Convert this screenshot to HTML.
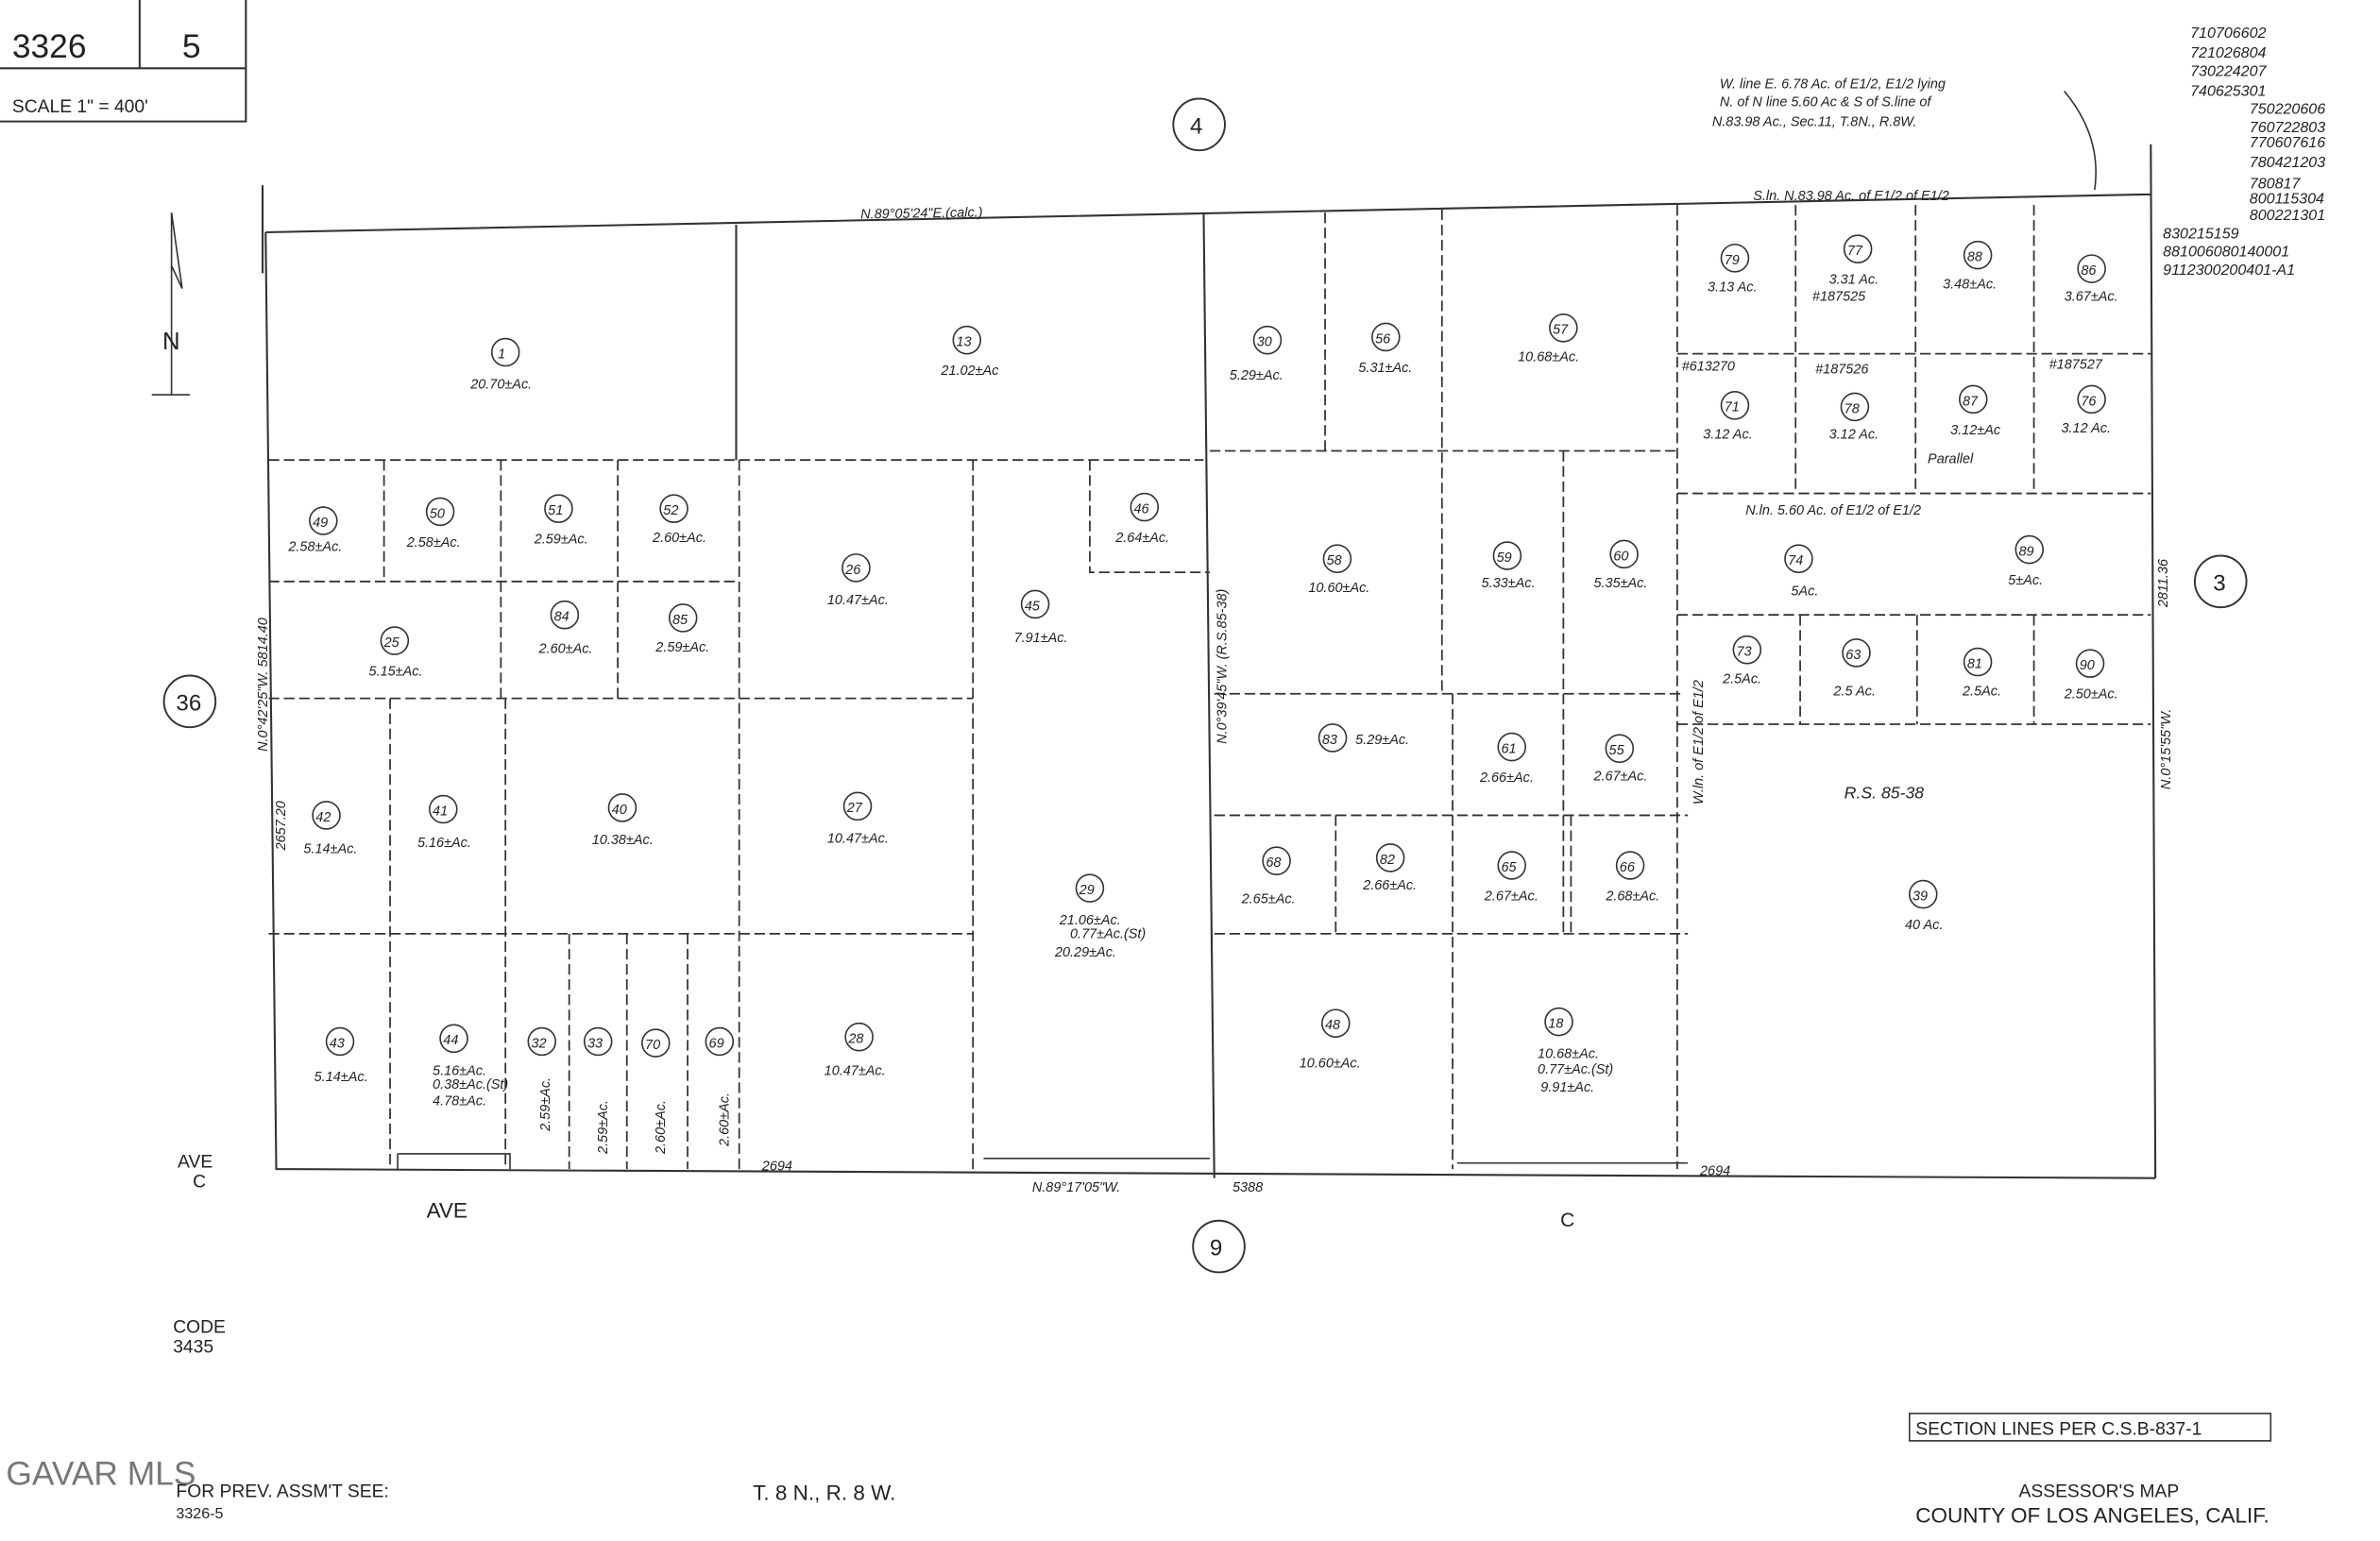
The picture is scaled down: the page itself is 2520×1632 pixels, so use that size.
<!DOCTYPE html>
<html><head><meta charset="utf-8"><style>
html,body{margin:0;padding:0;background:#fff;}
svg{display:block}
text{font-family:"Liberation Sans",sans-serif;fill:#222}
.s{font-size:9px;font-style:italic}
.n{font-size:11px;font-style:italic}
.b{font-size:15px}
</style></head><body>
<svg width="2520" height="1632" viewBox="0 0 1568 1015" preserveAspectRatio="none" xmlns="http://www.w3.org/2000/svg">
<rect width="1568" height="1015" fill="#fff"/>
<g stroke="#333" fill="none" stroke-width="1.3">
<!-- header box -->
<path d="M0 45 H162 V0 M92 0 V45 M0 80 H162 V45"/>
<!-- outline -->
<path d="M175 153 L1417 128 M175 153 L182 770 L1420 776 M1417 95 L1420 776 M173 122 V180"/>
<path d="M793 140 L800 776"/>
<path d="M485 148 V303"/>
</g>
<g stroke="#333" fill="none" stroke-width="1.1" stroke-dasharray="7,3">
<path d="M177 303 H793 M253 303 V383 M330 303 V460 M407 303 V460 M487 303 V770 M177 383 H487 M641 303 V770 M177 460 H641 M257 460 V770 M333 460 V770 M177 615 H641 M375 615 V770 M413 615 V770 M453 615 V770 M718 303 V377 H797"/>
<path d="M873 140 V300 M950 138 V457 M797 297 H1105 M1105 135 V770 M1030 297 V615 M800 457 H1110 M800 537 H1112 M800 615 H1112 M880 537 V615 M957 457 V770 M1035 537 V615"/>
<path d="M1105 233 H1417 M1183 135 V325 M1262 135 V325 M1340 135 V325 M1105 325 H1417 M1105 405 H1417 M1186 405 V477 M1263 405 V477 M1340 405 V477 M1105 477 H1417"/>
</g>
<g stroke="#333" fill="none" stroke-width="1">
<path d="M262 760 H336 V770 M262 760 V770 M648 763 H797 M960 766 H1112"/>
<path d="M113 140 L120 190 L113 175 M113 140 V260 M100 260 H125"/>
<path d="M1360 60 Q1385 90 1380 125"/>
</g>
<g fill="none" stroke="#333" stroke-width="1.2">
<circle cx="790" cy="82" r="17"/><circle cx="125" cy="462" r="17"/><circle cx="1463" cy="383" r="17"/><circle cx="803" cy="821" r="17"/>
</g>
<text class="b" x="784" y="88">4</text><text class="b" x="116" y="468">36</text><text class="b" x="1458" y="389">3</text><text class="b" x="797" y="827">9</text>
<text x="8" y="38" style="font-size:22px">3326</text><text x="120" y="38" style="font-size:22px">5</text>
<text x="8" y="74" style="font-size:12px">SCALE 1" = 400'</text>
<text x="107" y="230" style="font-size:16px">N</text>
<g id="lots" font-size="10">
<circle cx="333" cy="232" r="9" fill="none" stroke="#333"/><text class="s" x="328" y="236">1</text><text class="s" x="310" y="256">20.70±Ac.</text>
<circle cx="637" cy="224" r="9" fill="none" stroke="#333"/><text class="s" x="630" y="228">13</text><text class="s" x="620" y="247">21.02±Ac</text>
<circle cx="835" cy="224" r="9" fill="none" stroke="#333"/><text class="s" x="828" y="228">30</text><text class="s" x="810" y="250">5.29±Ac.</text>
<circle cx="913" cy="222" r="9" fill="none" stroke="#333"/><text class="s" x="906" y="226">56</text><text class="s" x="895" y="245">5.31±Ac.</text>
<circle cx="1030" cy="216" r="9" fill="none" stroke="#333"/><text class="s" x="1023" y="220">57</text><text class="s" x="1000" y="238">10.68±Ac.</text>
<circle cx="1143" cy="170" r="9" fill="none" stroke="#333"/><text class="s" x="1136" y="174">79</text><text class="s" x="1125" y="192">3.13 Ac.</text>
<circle cx="1224" cy="164" r="9" fill="none" stroke="#333"/><text class="s" x="1217" y="168">77</text><text class="s" x="1205" y="187">3.31 Ac.</text>
<circle cx="1303" cy="168" r="9" fill="none" stroke="#333"/><text class="s" x="1296" y="172">88</text><text class="s" x="1280" y="190">3.48±Ac.</text>
<circle cx="1378" cy="177" r="9" fill="none" stroke="#333"/><text class="s" x="1371" y="181">86</text><text class="s" x="1360" y="198">3.67±Ac.</text>
<circle cx="1143" cy="267" r="9" fill="none" stroke="#333"/><text class="s" x="1136" y="271">71</text><text class="s" x="1122" y="289">3.12 Ac.</text>
<circle cx="1222" cy="268" r="9" fill="none" stroke="#333"/><text class="s" x="1215" y="272">78</text><text class="s" x="1205" y="289">3.12 Ac.</text>
<circle cx="1300" cy="263" r="9" fill="none" stroke="#333"/><text class="s" x="1293" y="267">87</text><text class="s" x="1285" y="286">3.12±Ac</text>
<circle cx="1378" cy="263" r="9" fill="none" stroke="#333"/><text class="s" x="1371" y="267">76</text><text class="s" x="1358" y="285">3.12 Ac.</text>
<circle cx="213" cy="343" r="9" fill="none" stroke="#333"/><text class="s" x="206" y="347">49</text><text class="s" x="190" y="363">2.58±Ac.</text>
<circle cx="290" cy="337" r="9" fill="none" stroke="#333"/><text class="s" x="283" y="341">50</text><text class="s" x="268" y="360">2.58±Ac.</text>
<circle cx="368" cy="335" r="9" fill="none" stroke="#333"/><text class="s" x="361" y="339">51</text><text class="s" x="352" y="358">2.59±Ac.</text>
<circle cx="444" cy="335" r="9" fill="none" stroke="#333"/><text class="s" x="437" y="339">52</text><text class="s" x="430" y="357">2.60±Ac.</text>
<circle cx="754" cy="334" r="9" fill="none" stroke="#333"/><text class="s" x="747" y="338">46</text><text class="s" x="735" y="357">2.64±Ac.</text>
<circle cx="564" cy="374" r="9" fill="none" stroke="#333"/><text class="s" x="557" y="378">26</text><text class="s" x="545" y="398">10.47±Ac.</text>
<circle cx="682" cy="398" r="9" fill="none" stroke="#333"/><text class="s" x="675" y="402">45</text><text class="s" x="668" y="423">7.91±Ac.</text>
<circle cx="260" cy="422" r="9" fill="none" stroke="#333"/><text class="s" x="253" y="426">25</text><text class="s" x="243" y="445">5.15±Ac.</text>
<circle cx="372" cy="405" r="9" fill="none" stroke="#333"/><text class="s" x="365" y="409">84</text><text class="s" x="355" y="430">2.60±Ac.</text>
<circle cx="450" cy="407" r="9" fill="none" stroke="#333"/><text class="s" x="443" y="411">85</text><text class="s" x="432" y="429">2.59±Ac.</text>
<circle cx="881" cy="368" r="9" fill="none" stroke="#333"/><text class="s" x="874" y="372">58</text><text class="s" x="862" y="390">10.60±Ac.</text>
<circle cx="993" cy="366" r="9" fill="none" stroke="#333"/><text class="s" x="986" y="370">59</text><text class="s" x="976" y="387">5.33±Ac.</text>
<circle cx="1070" cy="365" r="9" fill="none" stroke="#333"/><text class="s" x="1063" y="369">60</text><text class="s" x="1050" y="387">5.35±Ac.</text>
<circle cx="1185" cy="368" r="9" fill="none" stroke="#333"/><text class="s" x="1178" y="372">74</text><text class="s" x="1180" y="392">5Ac.</text>
<circle cx="1337" cy="362" r="9" fill="none" stroke="#333"/><text class="s" x="1330" y="366">89</text><text class="s" x="1323" y="385">5±Ac.</text>
<circle cx="1151" cy="428" r="9" fill="none" stroke="#333"/><text class="s" x="1144" y="432">73</text><text class="s" x="1135" y="450">2.5Ac.</text>
<circle cx="1223" cy="430" r="9" fill="none" stroke="#333"/><text class="s" x="1216" y="434">63</text><text class="s" x="1208" y="458">2.5 Ac.</text>
<circle cx="1303" cy="436" r="9" fill="none" stroke="#333"/><text class="s" x="1296" y="440">81</text><text class="s" x="1293" y="458">2.5Ac.</text>
<circle cx="1377" cy="437" r="9" fill="none" stroke="#333"/><text class="s" x="1370" y="441">90</text><text class="s" x="1360" y="460">2.50±Ac.</text>
<circle cx="878" cy="486" r="9" fill="none" stroke="#333"/><text class="s" x="871" y="490">83</text><text class="s" x="893" y="490">5.29±Ac.</text>
<circle cx="996" cy="492" r="9" fill="none" stroke="#333"/><text class="s" x="989" y="496">61</text><text class="s" x="975" y="515">2.66±Ac.</text>
<circle cx="1067" cy="493" r="9" fill="none" stroke="#333"/><text class="s" x="1060" y="497">55</text><text class="s" x="1050" y="514">2.67±Ac.</text>
<circle cx="215" cy="537" r="9" fill="none" stroke="#333"/><text class="s" x="208" y="541">42</text><text class="s" x="200" y="562">5.14±Ac.</text>
<circle cx="292" cy="533" r="9" fill="none" stroke="#333"/><text class="s" x="285" y="537">41</text><text class="s" x="275" y="558">5.16±Ac.</text>
<circle cx="410" cy="532" r="9" fill="none" stroke="#333"/><text class="s" x="403" y="536">40</text><text class="s" x="390" y="556">10.38±Ac.</text>
<circle cx="565" cy="531" r="9" fill="none" stroke="#333"/><text class="s" x="558" y="535">27</text><text class="s" x="545" y="555">10.47±Ac.</text>
<circle cx="718" cy="585" r="9" fill="none" stroke="#333"/><text class="s" x="711" y="589">29</text><text class="s" x="698" y="609">21.06±Ac.</text><text class="s" x="705" y="618">0.77±Ac.(St)</text><text class="s" x="695" y="630">20.29±Ac.</text>
<circle cx="841" cy="567" r="9" fill="none" stroke="#333"/><text class="s" x="834" y="571">68</text><text class="s" x="818" y="595">2.65±Ac.</text>
<circle cx="916" cy="565" r="9" fill="none" stroke="#333"/><text class="s" x="909" y="569">82</text><text class="s" x="898" y="586">2.66±Ac.</text>
<circle cx="996" cy="570" r="9" fill="none" stroke="#333"/><text class="s" x="989" y="574">65</text><text class="s" x="978" y="593">2.67±Ac.</text>
<circle cx="1074" cy="570" r="9" fill="none" stroke="#333"/><text class="s" x="1067" y="574">66</text><text class="s" x="1058" y="593">2.68±Ac.</text>
<text class="n" x="1215" y="526">R.S. 85-38</text>
<circle cx="1267" cy="589" r="9" fill="none" stroke="#333"/><text class="s" x="1260" y="593">39</text><text class="s" x="1255" y="612">40 Ac.</text>
<circle cx="224" cy="686" r="9" fill="none" stroke="#333"/><text class="s" x="217" y="690">43</text><text class="s" x="207" y="712">5.14±Ac.</text>
<circle cx="299" cy="684" r="9" fill="none" stroke="#333"/><text class="s" x="292" y="688">44</text><text class="s" x="285" y="708">5.16±Ac.</text><text class="s" x="285" y="717">0.38±Ac.(St)</text><text class="s" x="285" y="728">4.78±Ac.</text>
<circle cx="357" cy="686" r="9" fill="none" stroke="#333"/><text class="s" x="350" y="690">32</text>
<circle cx="394" cy="686" r="9" fill="none" stroke="#333"/><text class="s" x="387" y="690">33</text>
<circle cx="432" cy="687" r="9" fill="none" stroke="#333"/><text class="s" x="425" y="691">70</text>
<circle cx="474" cy="686" r="9" fill="none" stroke="#333"/><text class="s" x="467" y="690">69</text>
<circle cx="566" cy="683" r="9" fill="none" stroke="#333"/><text class="s" x="559" y="687">28</text><text class="s" x="543" y="708">10.47±Ac.</text>
<circle cx="880" cy="674" r="9" fill="none" stroke="#333"/><text class="s" x="873" y="678">48</text><text class="s" x="856" y="703">10.60±Ac.</text>
<circle cx="1027" cy="673" r="9" fill="none" stroke="#333"/><text class="s" x="1020" y="677">18</text><text class="s" x="1013" y="697">10.68±Ac.</text><text class="s" x="1013" y="707">0.77±Ac.(St)</text><text class="s" x="1015" y="719">9.91±Ac.</text>
</g>
<g class="s">
<text x="362" y="745" transform="rotate(-90 362 745)">2.59±Ac.</text>
<text x="400" y="760" transform="rotate(-90 400 760)">2.59±Ac.</text>
<text x="438" y="760" transform="rotate(-90 438 760)">2.60±Ac.</text>
<text x="480" y="755" transform="rotate(-90 480 755)">2.60±Ac.</text>
<text x="176" y="495" transform="rotate(-90 176 495)">N.0°42'25"W. 5814.40</text>
<text x="188" y="560" transform="rotate(-90 188 560)">2657.20</text>
<text x="808" y="490" transform="rotate(-90 808 490)">N.0°39'45"W. (R.S.85-38)</text>
<text x="1122" y="530" transform="rotate(-90 1122 530)">W.ln. of E1/2 of E1/2</text>
<text x="1430" y="520" transform="rotate(-90 1430 520)">N.0°15'55"W.</text>
<text x="1428" y="400" transform="rotate(-90 1428 400)">2811.36</text>
<text x="567" y="144" transform="rotate(-1 567 144)">N.89°05'24"E.(calc.)</text>
<text x="1155" y="132">S.ln. N.83.98 Ac. of E1/2 of E1/2</text>
<text x="1150" y="339">N.ln. 5.60 Ac. of E1/2 of E1/2</text>
<text x="1133" y="58">W. line E. 6.78 Ac. of E1/2, E1/2 lying</text>
<text x="1133" y="70">N. of N line 5.60 Ac &amp; S of S.line of</text>
<text x="1128" y="83">N.83.98 Ac., Sec.11, T.8N., R.8W.</text>
<text x="1270" y="305">Parallel</text>
<text x="680" y="785">N.89°17'05"W.</text><text x="812" y="785">5388</text>
<text x="502" y="771">2694</text><text x="1120" y="774">2694</text>
<text x="1108" y="244">#613270</text><text x="1196" y="246">#187526</text><text x="1350" y="243">#187527</text>
<text x="1194" y="198">#187525</text>
</g>
<g font-size="10" style="font-style:italic">
<text x="1443" y="25">710706602</text><text x="1443" y="38">721026804</text><text x="1443" y="50">730224207</text><text x="1443" y="63">740625301</text>
<text x="1482" y="75">750220606</text><text x="1482" y="87">760722803</text><text x="1482" y="97">770607616</text><text x="1482" y="110">780421203</text>
<text x="1482" y="124">780817</text><text x="1482" y="134">800115304</text><text x="1482" y="145">800221301</text>
<text x="1425" y="157">830215159</text><text x="1425" y="169">881006080140001</text><text x="1425" y="181">9112300200401-A1</text>
</g>
<text x="117" y="769" font-size="12">AVE</text><text x="127" y="782" font-size="12">C</text>
<text x="281" y="802" font-size="14">AVE</text><text x="1028" y="808" font-size="13">C</text>
<text x="114" y="878" font-size="12">CODE</text><text x="114" y="891" font-size="12">3435</text>
<rect x="1258" y="931" width="238" height="18" fill="none" stroke="#333"/>
<text x="1262" y="945" font-size="12">SECTION LINES PER C.S.B-837-1</text>
<text x="4" y="978" font-size="22" fill="#888" style="fill:#777">GAVAR MLS</text>
<text x="116" y="986" font-size="12">FOR PREV. ASSM'T SEE:</text><text x="116" y="1000" font-size="10">3326-5</text>
<text x="496" y="988" font-size="14">T. 8 N., R. 8 W.</text>
<text x="1330" y="986" font-size="12">ASSESSOR'S MAP</text>
<text x="1262" y="1003" font-size="14">COUNTY OF LOS ANGELES, CALIF.</text>
</svg>
</body></html>
